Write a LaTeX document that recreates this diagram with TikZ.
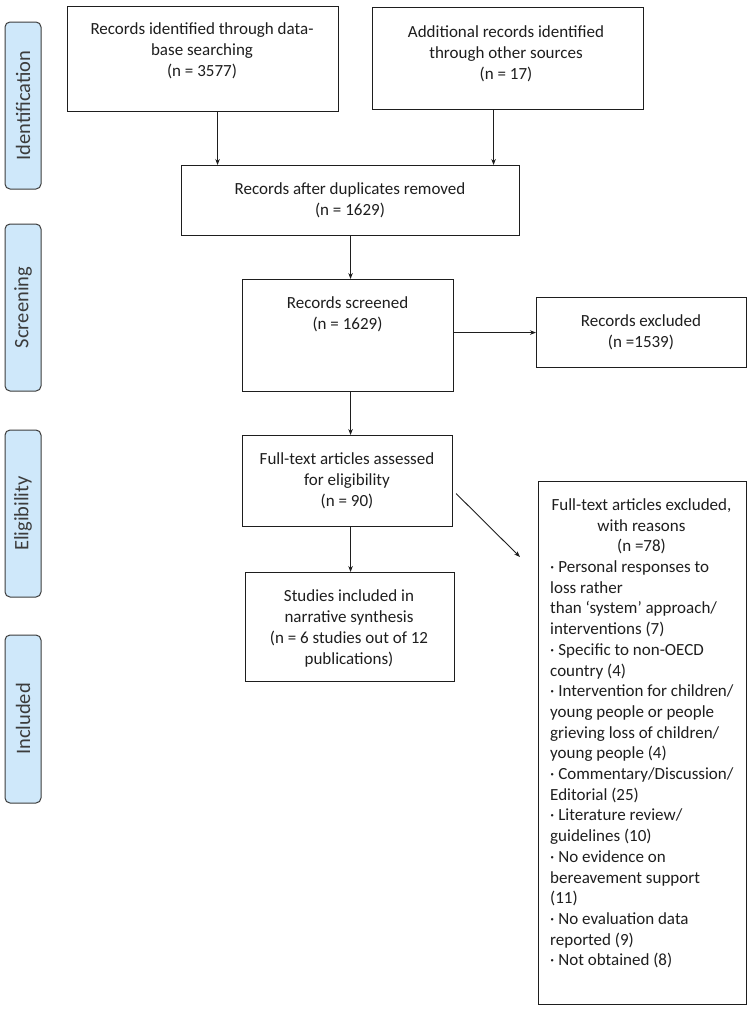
\documentclass[tikz,border=0pt]{standalone}
\usepackage{fontspec}
\setmainfont{Carlito}
\usetikzlibrary{arrows.meta}
\definecolor{sidefill}{RGB}{207,232,250}
\definecolor{ink}{RGB}{30,30,30}
\definecolor{sideink}{RGB}{60,60,60}
\tikzset{
  box/.style={draw=ink, line width=1.1pt, rectangle, inner sep=0pt, anchor=north west},
  side/.style={draw=sideink, fill=sidefill, line width=1pt, rounded corners=5pt, rotate=90, inner sep=0pt, text=sideink, font=\fontsize{20.5pt}{24pt}\selectfont},
  txt/.style={inner sep=0pt, anchor=north, align=center, text=ink, font=\fontsize{17pt}{21.3pt}\selectfont},
  ltxt/.style={inner sep=0pt, anchor=north west, align=left, text=ink, font=\fontsize{17pt}{20.7pt}\selectfont},
  arr/.style={draw=ink, line width=0.9pt, -{Stealth[length=6pt,width=4.5pt]}}
}
\begin{document}
\begin{tikzpicture}[x=1pt,y=-1pt]
\useasboundingbox (0,0) rectangle (753,1009);
\fill[white] (0,0) rectangle (753,1009);
% side labels
\node[side, minimum width=167, minimum height=36] (s1) at (23,105.5) {Identification};
\node[side, minimum width=167, minimum height=36] (s2) at (23,307.5) {Screening};
\node[side, minimum width=167, minimum height=36] (s3) at (23,513.5) {Eligibility};
\node[side, minimum width=168, minimum height=36] (s4) at (23,719) {Included};
% boxes
\node[box, minimum width=271, minimum height=105] (A) at (67,6) {};
\node[box, minimum width=271, minimum height=102] (B) at (372,7) {};
\node[box, minimum width=338, minimum height=70] (C) at (181,165) {};
\node[box, minimum width=211, minimum height=112] (D) at (242,279) {};
\node[box, minimum width=210, minimum height=70] (E) at (536,297) {};
\node[box, minimum width=210, minimum height=91] (F) at (242,435) {};
\node[box, minimum width=209, minimum height=109] (G) at (245,572) {};
\node[box, minimum width=208, minimum height=523] (H) at (538,481) {};
% texts
\node[txt] (tA) at (202,22) {Records identified through data-\\base searching\\(n = 3577)};
\node[txt] (tB) at (506,25) {Additional records identified\\through other sources\\(n = 17)};
\node[txt] (tC) at (350,182) {Records after duplicates removed\\(n = 1629)};
\node[txt] (tD) at (347.5,296) {Records screened\\(n = 1629)};
\node[txt] (tE) at (641,314) {Records excluded\\(n =1539)};
\node[txt] (tF) at (347,452) {Full-text articles assessed\\for eligibility\\(n = 90)};
\node[txt] (tG) at (349,589) {Studies included in\\narrative synthesis\\(n = 6 studies out of 12\\publications)};
\node[txt, font=\fontsize{17pt}{20.7pt}\selectfont] (tH) at (641.5,498.5) {Full-text articles excluded,\\with reasons\\(n =78)};
\node[ltxt] (tH2) at (550,560.5) {· Personal responses to\\loss rather\\than ‘system’ approach/\\interventions (7)\\· Specific to non-OECD\\country (4)\\· Intervention for children/\\young people or people\\grieving loss of children/\\young people (4)\\· Commentary/Discussion/\\Editorial (25)\\· Literature review/\\guidelines (10)\\· No evidence on\\bereavement support\\(11)\\· No evaluation data\\reported (9)\\· Not obtained (8)};
% connectors
\draw[arr] ([xshift=14.5pt]A.south) -- ([xshift=14.5pt]A.south |- C.north);
\draw[arr] ([xshift=-14.5pt]B.south) -- ([xshift=-14.5pt]B.south |- C.north);
\draw[arr] (C.south) -- (C.south |- D.north);
\draw[arr] (E.west -| D.east) -- (E.west);
\draw[arr] ([xshift=2.5pt]D.south) -- ([xshift=2.5pt]D.south |- F.north);
\draw[arr] ([xshift=3pt]F.south) -- ([xshift=3pt]F.south |- G.north);
\draw[arr] ([xshift=3pt,yshift=-12.5pt]F.east) -- ([xshift=-18pt,yshift=-76pt]H.north west);
\end{tikzpicture}
\end{document}
